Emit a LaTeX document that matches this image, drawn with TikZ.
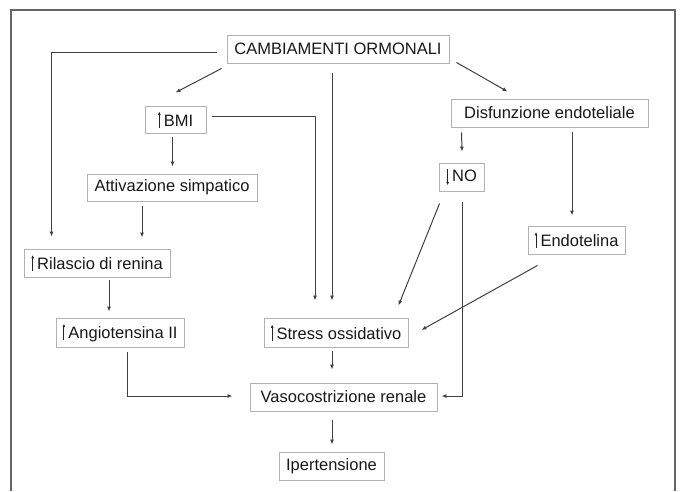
\documentclass[tikz,border=0pt]{standalone}
\usepackage{fontspec}
\setmainfont{Liberation Sans}
\usetikzlibrary{calc,arrows.meta,shadows}
\newcommand{\upar}{\tikz[baseline=0pt]\draw[line width=1pt,black!85,-{Latex[length=3.4pt,width=3pt]}] (0pt,-1.5pt) -- (0pt,14.5pt);\hspace{3pt}}
\newcommand{\dnar}{\tikz[baseline=0pt]\draw[line width=1pt,black!85,-{Latex[length=3.4pt,width=3pt]}] (0pt,12.5pt) -- (0pt,-4pt);\hspace{3pt}}
\tikzset{
  boxnode/.style={draw=gray!60, line width=0.9pt, fill=white, inner sep=0pt,
    text=black!90, font=\fontsize{16.5}{18}\selectfont,
    drop shadow={shadow xshift=1pt, shadow yshift=-1pt, fill=gray!35, opacity=1}},
  conn/.style={draw=black!75, line width=1pt, -{Latex[length=5pt,width=4pt]}},
}
\begin{document}
\begin{tikzpicture}[x=1pt,y=-1pt]
\useasboundingbox (0,0) rectangle (682,491);
\fill[white] (0,0) rectangle (682,491);
\draw[gray!80!black, line width=1.4pt] (11,491) -- (11,10) -- (675,10) -- (675,491);

\node[boxnode, minimum width=222pt, minimum height=28pt] (cam) at (338,49) {CAMBIAMENTI ORMONALI};
\node[boxnode, minimum width=61pt, minimum height=27pt] (bmi) at (175.5,119.5) {\upar BMI};
\node[boxnode, minimum width=197pt, minimum height=28pt] (dis) at (549.5,113) {Disfunzione endoteliale};
\node[boxnode, minimum width=170pt, minimum height=27pt] (att) at (172,187.5) {Attivazione simpatico};
\node[boxnode, minimum width=45pt, minimum height=28pt] (no) at (461.5,177) {\dnar NO};
\node[boxnode, minimum width=146pt, minimum height=28pt] (ril) at (97,263) {\upar Rilascio di renina};
\node[boxnode, minimum width=97pt, minimum height=28pt] (endo) at (576.5,240) {\upar Endotelina};
\node[boxnode, minimum width=128pt, minimum height=29pt] (ang) at (120,332.5) {\upar Angiotensina II};
\node[boxnode, minimum width=144pt, minimum height=29pt] (str) at (336,332.5) {\upar Stress ossidativo};
\node[boxnode, minimum width=187pt, minimum height=28pt] (vas) at (343.5,397) {Vasocostrizione renale};
\node[boxnode, minimum width=105pt, minimum height=28pt] (ipe) at (331.5,466) {Ipertensione};

\draw[conn] ($(cam.west)+(-10,3)$) -| ($(ril.north west)+(28,-12)$);
\draw[conn] ($(cam.south west)+(-5,5)$) -- ($(bmi.north)+(0,-13)$);
\draw[conn] ($(cam.south)+(-6,10)$) -- ($(str.north)+(-4,-17)$);
\draw[conn] ($(cam.south east)+(7,-1)$) -- ($(dis.north west)+(57,-7)$);
\draw[conn] ($(bmi.east)+(6,-3)$) -| ($(str.north)+(-21,-17)$);
\draw[conn] ($(bmi.south)+(-3,4)$) -- ($(att.north)+(0.5,-7)$);
\draw[conn] ($(att.south)+(-30,5)$) -- ($(ril.north)+(45,-11)$);
\draw[conn] ($(ril.south)+(12,3)$) -- ($(ang.north)+(-11,-6)$);
\draw[conn] ($(ang.south)+(7,5)$) |- ($(vas.west)+(-17,-1)$);
\draw[conn] ($(str.south)+(-4,4)$) -- ($(vas.north)+(-11.5,-13)$);
\draw[conn] ($(vas.south)+(-11.5,9)$) -- ($(ipe.north)+(0.5,-7)$);
\draw[conn] ($(dis.south west)+(11,5)$) -- ($(no.north)+(0.5,-11)$);
\draw[conn] ($(dis.south)+(22.5,5)$) -- ($(endo.north)+(-4.5,-10)$);
\draw[conn] ($(no.south west)+(1,12)$) -- ($(str.north east)+(-10,-12)$);
\draw[conn] ($(no.south)+(1,11)$) |- ($(vas.east)+(4,-1)$);
\draw[conn] ($(endo.south west)+(10,11)$) -- ($(str.east)+(13,-2.5)$);
\end{tikzpicture}
\end{document}
